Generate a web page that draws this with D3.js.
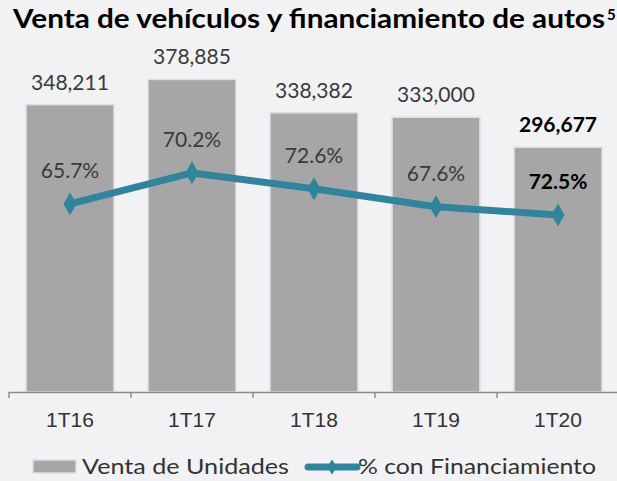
<!DOCTYPE html>
<html>
<head>
<meta charset="utf-8">
<script src="https://cdn.jsdelivr.net/npm/d3@7"></script>
<style>
  html, body { margin: 0; padding: 0; background: #f2f2f4; }
  svg { display: block; font-family: "Century Gothic", Lato, "Open Sans", sans-serif; }
</style>
</head>
<body>
<div id="chart"></div>
<script>
// Données du graphique
const categories = ["1T16", "1T17", "1T18", "1T19", "1T20"];
const ventaUnidades = [348211, 378885, 338382, 333000, 296677];
const pctEtiquetas = ["65.7%", "70.2%", "72.6%", "67.6%", "72.5%"];
// position de la ligne telle que dessinée (axe secondaire)
const pctTrace = [65.7, 70.2, 67.9, 65.3, 64.1];
const enGras = [false, false, false, false, true];

const width = 617, height = 481;
const teal = "#31849b";

const svg = d3.select("#chart")
    .append("svg")
    .attr("width", width)
    .attr("height", height);

svg.append("rect").attr("width", width).attr("height", height).attr("fill", "#f2f2f4");

// Titre
svg.append("text")
    .attr("x", 13)
    .attr("y", 28)
    .attr("font-size", 26)
    .attr("font-weight", "bold")
    .attr("fill", "#000")
    .attr("textLength", 592)
    .attr("lengthAdjust", "spacingAndGlyphs")
    .text("Venta de vehículos y financiamiento de autos");
svg.append("text")
    .attr("x", 607)
    .attr("y", 20)
    .attr("font-size", 15)
    .attr("font-weight", "bold")
    .attr("fill", "#000")
    .text("5");

// Échelles
const x = d3.scaleBand()
    .domain(categories)
    .range([9, 619])
    .paddingInner(0.28)
    .paddingOuter(0.14);

const y = d3.scaleLinear()
    .domain([0, 400000])
    .range([392, 62]);

const y2 = d3.scaleLinear()
    .domain([38.4, 86.3])
    .range([392, 62]);

const data = categories.map((c, i) => ({
    cat: c,
    venta: ventaUnidades[i],
    pct: pctTrace[i],
    label: pctEtiquetas[i],
    bold: enGras[i]
}));

// Barres
svg.selectAll(".bar")
    .data(data)
    .enter()
    .append("rect")
    .attr("class", "bar")
    .attr("x", d => x(d.cat))
    .attr("y", d => y(d.venta))
    .attr("width", x.bandwidth())
    .attr("height", d => y(0) - y(d.venta))
    .attr("fill", "#a6a6a6")
    .attr("stroke", "#e0dbe8")
    .attr("stroke-width", 1.5);

// Étiquettes des barres
svg.selectAll(".val")
    .data(data)
    .enter()
    .append("text")
    .attr("class", "val")
    .attr("x", d => x(d.cat) + x.bandwidth() / 2)
    .attr("y", d => y(d.venta) - 15)
    .attr("text-anchor", "middle")
    .attr("font-size", 21)
    .attr("font-weight", d => d.bold ? "bold" : "normal")
    .attr("fill", d => d.bold ? "#000" : "#3a3a3a")
    .text(d => d3.format(",")(d.venta));

// Axe X
const step = x.step();
const bornes = categories.map(c => x(c) - step * x.paddingInner() / 2);
bornes.push(x.range()[1]);

const axe = svg.append("g");
axe.append("line")
    .attr("x1", bornes[0]).attr("x2", width)
    .attr("y1", y(0) + 0.5).attr("y2", y(0) + 0.5)
    .attr("stroke", "#8c8c8c")
    .attr("stroke-width", 1.5);
axe.selectAll(".tick-b")
    .data(bornes)
    .enter()
    .append("line")
    .attr("x1", d => d).attr("x2", d => d)
    .attr("y1", y(0)).attr("y2", y(0) + 6)
    .attr("stroke", "#8c8c8c")
    .attr("stroke-width", 1.5);

const axeX = svg.append("g")
    .attr("transform", `translate(0,${y(0)})`)
    .call(d3.axisBottom(x).tickSize(0).tickPadding(20));
axeX.select(".domain").remove();
axeX.selectAll("text")
    .attr("font-size", 21)
    .attr("font-family", null)
    .attr("fill", "#333");

// Ligne % con financiamiento
const ligne = d3.line()
    .x(d => x(d.cat) + x.bandwidth() / 2)
    .y(d => y2(d.pct));

svg.append("path")
    .datum(data)
    .attr("d", ligne)
    .attr("fill", "none")
    .attr("stroke", teal)
    .attr("stroke-width", 7)
    .attr("stroke-linejoin", "round");

const diamant = d3.symbol().type(d3.symbolDiamond).size(150);

svg.selectAll(".mk")
    .data(data)
    .enter()
    .append("path")
    .attr("class", "mk")
    .attr("transform", d => `translate(${x(d.cat) + x.bandwidth() / 2},${y2(d.pct)})`)
    .attr("d", diamant)
    .attr("fill", teal);

svg.selectAll(".pct")
    .data(data)
    .enter()
    .append("text")
    .attr("class", "pct")
    .attr("x", d => x(d.cat) + x.bandwidth() / 2)
    .attr("y", d => y2(d.pct) - 25.5)
    .attr("text-anchor", "middle")
    .attr("font-size", 21)
    .attr("font-weight", d => d.bold ? "bold" : "normal")
    .attr("fill", d => d.bold ? "#000" : "#3a3a3a")
    .text(d => d.label);

// Légende
const leg = svg.append("g");
leg.append("rect")
    .attr("x", 33).attr("y", 460)
    .attr("width", 43).attr("height", 13)
    .attr("fill", "#a6a6a6")
    .attr("stroke", "#e0dbe8")
    .attr("stroke-width", 1.5);
leg.append("text")
    .attr("x", 82).attr("y", 474)
    .attr("font-size", 21)
    .attr("fill", "#333")
    .attr("textLength", 207)
    .attr("lengthAdjust", "spacingAndGlyphs")
    .text("Venta de Unidades");
leg.append("line")
    .attr("x1", 308).attr("x2", 357)
    .attr("y1", 467).attr("y2", 467)
    .attr("stroke", teal)
    .attr("stroke-width", 7)
    .attr("stroke-linecap", "round");
leg.append("path")
    .attr("transform", "translate(332,467)")
    .attr("d", d3.symbol().type(d3.symbolDiamond).size(70))
    .attr("fill", teal);
leg.append("text")
    .attr("x", 358).attr("y", 474)
    .attr("font-size", 21)
    .attr("fill", "#333")
    .attr("textLength", 238)
    .attr("lengthAdjust", "spacingAndGlyphs")
    .text("% con Financiamiento");
</script>
</body>
</html>
